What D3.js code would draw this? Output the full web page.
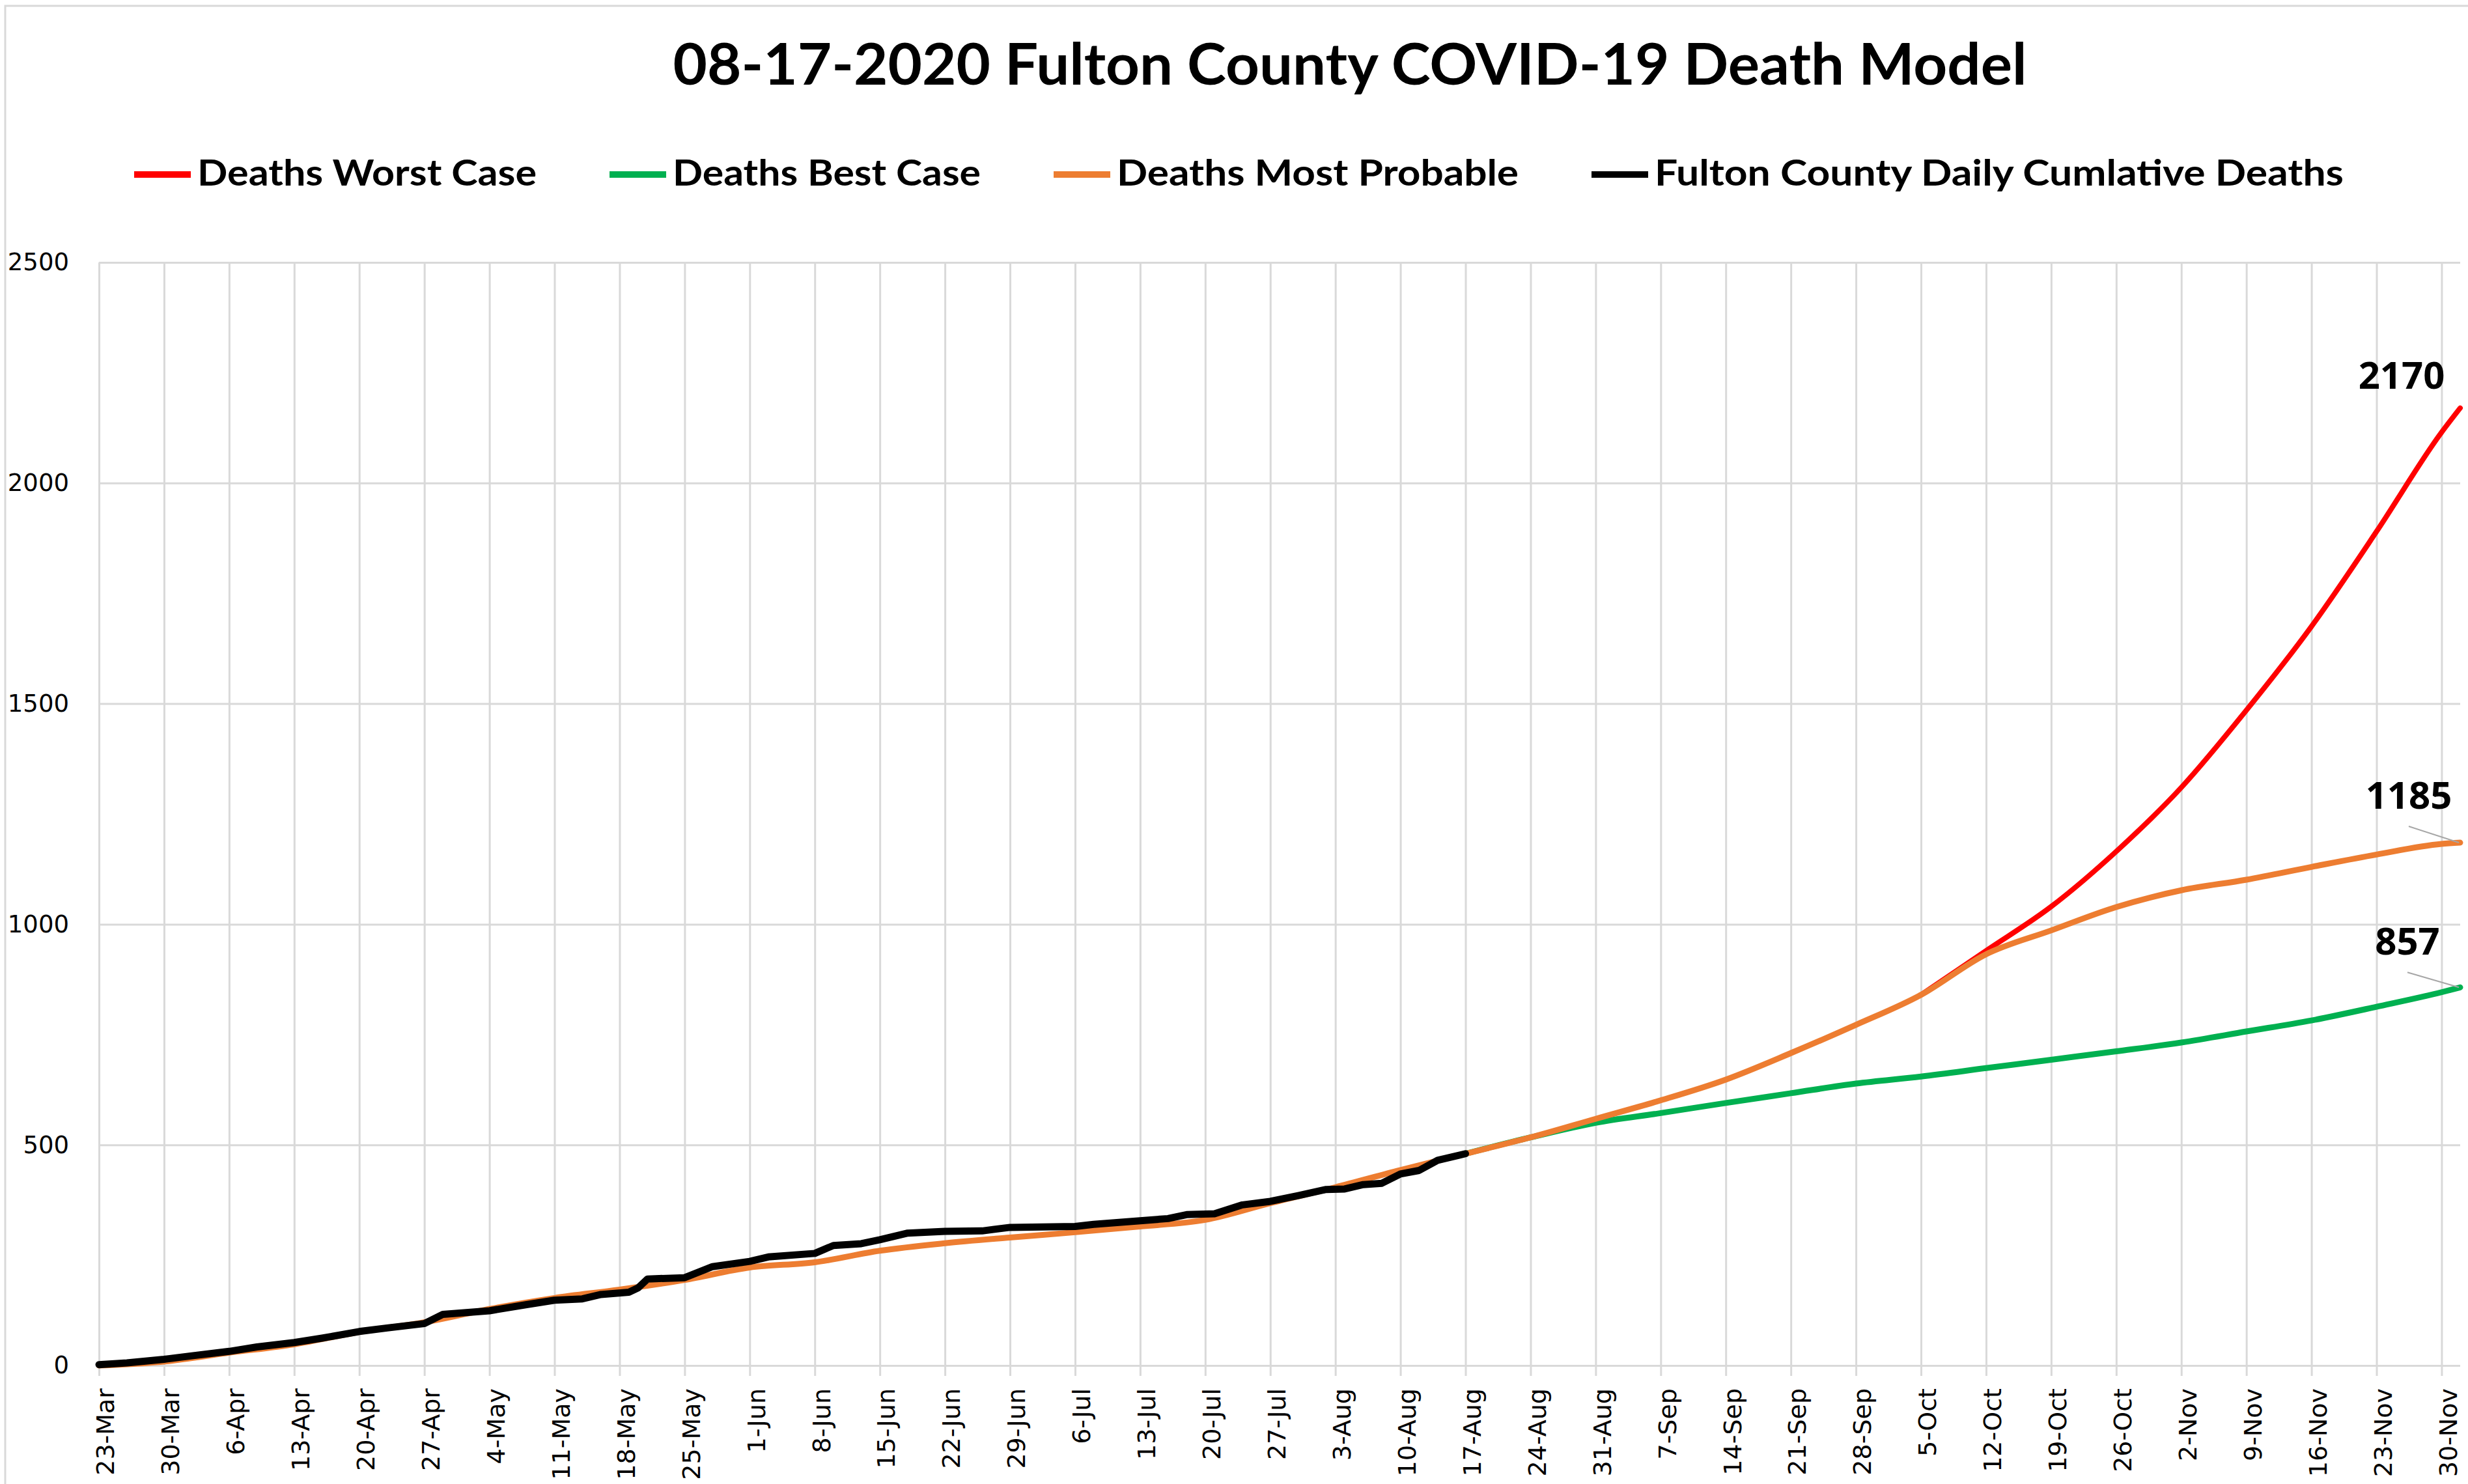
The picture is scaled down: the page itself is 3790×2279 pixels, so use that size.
<!DOCTYPE html>
<html>
<head>
<meta charset="utf-8">
<script src="https://cdnjs.cloudflare.com/ajax/libs/d3/7.8.5/d3.min.js"></script>
<style>
  body { margin: 0; background: #fff; }
  svg { display: block; }
</style>
</head>
<body>
<div id="chart"></div>
<script>
// ---- data ----
const actualDates = ["03-23","03-26","03-30","04-02","04-06","04-09","04-13","04-16","04-20","04-23","04-27","04-29",
  "05-04","05-08","05-11","05-14","05-16","05-19","05-20","05-21","05-25","05-28","06-01","06-03","06-08","06-10",
  "06-13","06-15","06-18","06-22","06-26","06-29","07-06","07-08","07-13","07-16","07-18","07-21","07-24","07-27",
  "07-30","08-02","08-04","08-06","08-08","08-10","08-12","08-14","08-17"];
const actualValues = [2,6,14,22,32,42,52,62,77,85,95,116,
  124,138,148,151,161,166,176,196,199,224,236,246,254,272,
  276,285,300,304,305,313,315,320,328,333,342,344,364,372,
  385,399,400,410,413,434,442,465,480];

const probableDates = ["03-23","03-30","04-06","04-13","04-20","04-27","05-04","05-11","05-18","05-25","06-01","06-08",
  "06-15","06-22","06-29","07-06","07-13","07-20","07-27","08-03","08-10","08-17","08-24","08-31","09-07","09-14",
  "09-21","09-28","10-05","10-12","10-19","10-26","11-02","11-09","11-16","11-23","11-30","12-02"];
const probableValues = [0,9,29,48,76,98,128,153,172,194,222,234,
  260,277,290,302,315,330,368,404,443,480,517,559,601,648,
  708,772,840,932,986,1039,1077,1101,1130,1158,1182,1185];

const bestDates = ["08-17","08-24","08-31","09-07","09-14","09-21","09-28","10-05","10-12","10-19","10-26","11-02",
  "11-09","11-16","11-23","11-30","12-02"];
const bestValues = [480,517,550,572,595,617,639,655,674,693,712,732,757,782,813,846,857];

const worstDates = ["10-05","10-12","10-19","10-26","11-02","11-09","11-16","11-23","11-30","12-02"];
const worstValues = [840,940,1040,1165,1310,1485,1675,1890,2115,2170];

const yTicks = [0, 500, 1000, 1500, 2000, 2500];
const seriesNames = ["Deaths Worst Case", "Deaths Best Case", "Deaths Most Probable", "Fulton County Daily Cumlative Deaths"];
const chartTitle = "08-17-2020 Fulton County COVID-19 Death Model";

// ---- layout ----
const W = 3790, H = 2279;
const plot = { left: 152, right: 3778, top: 403, bottom: 2097 };
const colors = { worst: "#ff0000", best: "#00b050", probable: "#ed7d31", actual: "#000000" };
const gridColor = "#d9d9d9";

const parse = d => d3.timeParse("%Y-%m-%d")("2020-" + d);
const toPoints = (dates, values) => dates.map((d, i) => ({ date: parse(d), value: values[i] }));

const actual = toPoints(actualDates, actualValues);
const probable = toPoints(probableDates, probableValues);
const best = toPoints(bestDates, bestValues);
const worst = toPoints(worstDates, worstValues);

const x = d3.scaleTime()
  .domain([parse("03-23"), parse("12-02")])
  .range([plot.left, plot.right]);

const y = d3.scaleLinear()
  .domain([0, 2500])
  .range([plot.bottom, plot.top]);

const xTicks = d3.timeMonday.range(parse("03-23"), parse("12-01"));

const svg = d3.select("#chart").append("svg")
  .attr("width", W)
  .attr("height", H);

svg.append("rect")
  .attr("x", 8).attr("y", 9)
  .attr("width", W + 20).attr("height", H + 20)
  .attr("fill", "#fff")
  .attr("stroke", gridColor)
  .attr("stroke-width", 3);

// gridlines
const vGrid = svg.append("g")
  .attr("transform", `translate(0,${plot.bottom})`)
  .call(d3.axisBottom(x).tickValues(xTicks).tickSize(-(plot.bottom - plot.top)).tickFormat(""));
vGrid.select(".domain").remove();
vGrid.selectAll("line").attr("stroke", gridColor).attr("stroke-width", 3);

const hGrid = svg.append("g")
  .attr("transform", `translate(${plot.left},0)`)
  .call(d3.axisLeft(y).tickValues(yTicks).tickSize(-(plot.right - plot.left)).tickFormat(""));
hGrid.select(".domain").remove();
hGrid.selectAll("line").attr("stroke", gridColor).attr("stroke-width", 3);

// x axis
const xAxis = svg.append("g")
  .attr("transform", `translate(0,${plot.bottom})`)
  .call(d3.axisBottom(x).tickValues(xTicks).tickFormat(d3.timeFormat("%-d-%b")).tickSizeInner(16).tickSizeOuter(0));
xAxis.select(".domain").remove();
xAxis.selectAll("line").attr("stroke", gridColor).attr("stroke-width", 3);
xAxis.selectAll("text")
  .attr("transform", "rotate(-90)")
  .attr("x", -35)
  .attr("y", 0)
  .attr("dy", "0.6em")
  .style("text-anchor", "end")
  .style("font-family", "DejaVu Sans")
  .style("font-size", "38px")
  .attr("fill", "#000");

// y axis
const yAxis = svg.append("g")
  .attr("transform", `translate(${plot.left},0)`)
  .call(d3.axisLeft(y).tickValues(yTicks).tickFormat(d3.format("d")).tickSize(0).tickPadding(46));
yAxis.select(".domain").remove();
yAxis.selectAll("text")
  .style("font-family", "DejaVu Sans")
  .style("font-size", "37px")
  .attr("fill", "#000");

// series
const smooth = d3.line().x(d => x(d.date)).y(d => y(d.value)).curve(d3.curveMonotoneX);
const straight = d3.line().x(d => x(d.date)).y(d => y(d.value));

const series = [
  { data: worst, color: colors.worst, width: 8, gen: smooth },
  { data: best, color: colors.best, width: 9, gen: smooth },
  { data: probable, color: colors.probable, width: 9, gen: smooth },
  { data: actual, color: colors.actual, width: 11, gen: straight }
];

svg.selectAll(".series")
  .data(series)
  .enter().append("path")
  .attr("class", "series")
  .attr("d", d => d.gen(d.data))
  .attr("fill", "none")
  .attr("stroke", d => d.color)
  .attr("stroke-width", d => d.width)
  .attr("stroke-linejoin", "round")
  .attr("stroke-linecap", "round");

// end labels
const endLabels = [
  { point: worst[worst.length - 1], dx: -90, dy: -30, leader: false },
  { point: probable[probable.length - 1], dx: -79, dy: -52, leader: true },
  { point: best[best.length - 1], dx: -81, dy: -50, leader: true }
];

endLabels.forEach(l => {
  const px = x(l.point.date), py = y(l.point.value);
  if (l.leader) {
    svg.append("line")
      .attr("x1", px + l.dx).attr("y1", py + l.dy + 27)
      .attr("x2", px - 2).attr("y2", py)
      .attr("stroke", "#a6a6a6")
      .attr("stroke-width", 2);
  }
  svg.append("text")
    .attr("x", px + l.dx)
    .attr("y", py + l.dy)
    .attr("text-anchor", "middle")
    .style("font-family", "Noto Sans")
    .style("font-weight", "bold")
    .style("font-size", "58px")
    .text(l.point.value);
});

// title
svg.append("text")
  .attr("x", 2073)
  .attr("y", 130)
  .attr("text-anchor", "middle")
  .attr("textLength", 2079)
  .attr("lengthAdjust", "spacingAndGlyphs")
  .style("font-family", "Lato")
  .style("font-weight", "bold")
  .style("font-size", "88px")
  .text(chartTitle);

// legend
const legendColors = [colors.worst, colors.best, colors.probable, colors.actual];
const legendTextWidths = [521, 473, 617, 1058];
let lx = 206;
seriesNames.forEach((name, i) => {
  svg.append("line")
    .attr("x1", lx).attr("x2", lx + 87)
    .attr("y1", 268).attr("y2", 268)
    .attr("stroke", legendColors[i])
    .attr("stroke-width", 10);
  svg.append("text")
    .attr("x", lx + 97)
    .attr("y", 285)
    .attr("textLength", legendTextWidths[i])
    .attr("lengthAdjust", "spacingAndGlyphs")
    .style("font-family", "Lato")
    .style("font-weight", "bold")
    .style("font-size", "56px")
    .text(name);
  lx += 97 + legendTextWidths[i] + 112;
});
</script>
</body>
</html>
